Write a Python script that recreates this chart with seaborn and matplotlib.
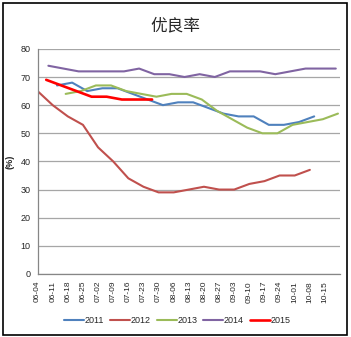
import matplotlib
matplotlib.use("Agg")
import matplotlib.pyplot as plt
import seaborn as sns
import pandas as pd
from matplotlib.lines import Line2D
from matplotlib.patches import Rectangle

# ---- data (month-day of weekly report, good/excellent %) ----
dates_2011 = ["06-13", "06-20", "06-27", "07-04", "07-11", "07-18", "07-25", "08-01", "08-08",
              "08-15", "08-22", "08-29", "09-05", "09-12", "09-19", "09-26", "10-03", "10-10"]
vals_2011 = [67, 68, 65, 66, 66, 64, 62, 60, 61, 61, 59, 57, 56, 56, 53, 53, 54, 56]

dates_2012 = ["06-04", "06-11", "06-18", "06-25", "07-02", "07-09", "07-16", "07-23", "07-30",
              "08-06", "08-13", "08-20", "08-27", "09-03", "09-10", "09-17", "09-24", "10-01", "10-08"]
vals_2012 = [65, 60, 56, 53, 45, 40, 34, 31, 29, 29, 30, 31, 30, 30, 32, 33, 35, 35, 37]

dates_2013 = ["06-17", "06-24", "07-01", "07-08", "07-15", "07-22", "07-29", "08-05", "08-12",
              "08-19", "08-26", "09-02", "09-09", "09-16", "09-23", "09-30", "10-07", "10-14", "10-21"]
vals_2013 = [64, 65, 67, 67, 65, 64, 63, 64, 64, 62, 58, 55, 52, 50, 50, 53, 54, 55, 57]

dates_2014 = ["06-09", "06-16", "06-23", "06-30", "07-07", "07-14", "07-21", "07-28", "08-04", "08-11",
              "08-18", "08-25", "09-01", "09-08", "09-15", "09-22", "09-29", "10-06", "10-13", "10-20"]
vals_2014 = [74, 73, 72, 72, 72, 72, 73, 71, 71, 70, 71, 70, 72, 72, 72, 71, 72, 73, 73, 73]

dates_2015 = ["06-08", "06-15", "06-22", "06-29", "07-06", "07-13", "07-20", "07-27"]
vals_2015 = [69, 67, 65, 63, 63, 62, 62, 62]

years = ["2011", "2012", "2013", "2014", "2015"]
colors = ["#4F81BD", "#C0504D", "#9BBB59", "#8064A2", "#FF0000"]
tick_labels = ["06-04", "06-11", "06-18", "06-25", "07-02", "07-09", "07-16", "07-23", "07-30",
               "08-06", "08-13", "08-20", "08-27", "09-03", "09-10", "09-17", "09-24", "10-01",
               "10-08", "10-15", ""]
y_ticks = [0, 10, 20, 30, 40, 50, 60, 70, 80]
title = "优良率"
y_label = "(%)"

# ---- build table ----
origin = pd.Timestamp("2001-06-04")
def to_day(md):
    return (pd.Timestamp("2001-" + md) - origin).days

series = {
    "2011": (dates_2011, vals_2011),
    "2012": (dates_2012, vals_2012),
    "2013": (dates_2013, vals_2013),
    "2014": (dates_2014, vals_2014),
    "2015": (dates_2015, vals_2015),
}
rows = []
for y in years:
    ds, vs = series[y]
    for d, v in zip(ds, vs):
        rows.append({"year": y, "day": to_day(d), "value": v})
df = pd.DataFrame(rows)

# ---- plot ----
sns.set_style("white")
plt.rcParams["font.family"] = ["Liberation Sans", "Noto Sans CJK SC", "DejaVu Sans"]

fig = plt.figure(figsize=(3.51, 3.37), dpi=100)
ax = fig.add_axes([0.107, 0.187, 0.862, 0.668])

sns.lineplot(data=df, x="day", y="value", hue="year", hue_order=years,
             palette=dict(zip(years, colors)), estimator=None, legend=False,
             linewidth=1.5, ax=ax)
for line, y in zip(ax.lines, years):
    if y == "2015":
        line.set_linewidth(1.9)

tick_pos = [to_day(t) if t else to_day("10-22") for t in tick_labels]
ax.set_xlim(0, to_day("10-22"))
ax.set_ylim(0, 80)
ax.set_xticks(tick_pos)
ax.set_xticklabels(tick_labels, rotation=90, fontsize=6)
ax.set_yticks(y_ticks)
ax.set_yticklabels([str(v) for v in y_ticks], fontsize=6.5)
ax.set_xlabel("")
ax.set_ylabel(y_label, fontsize=6.5, fontweight="bold", labelpad=4)

ax.grid(axis="y", color="#A6A6A6", linewidth=0.9)
ax.grid(axis="x", visible=False)
ax.set_axisbelow(True)
for s in ["top", "right"]:
    ax.spines[s].set_visible(False)
for s in ["left", "bottom"]:
    ax.spines[s].set_color("#868686")
    ax.spines[s].set_linewidth(0.9)
ax.tick_params(axis="x", direction="out", length=3, width=0.8, color="#868686", pad=2)
ax.tick_params(axis="y", direction="out", length=3, width=0.8, color="#868686", pad=2)

fig.text(0.5, 0.922, title, ha="center", va="center", fontsize=12,
         family=["Noto Sans CJK SC", "DejaVu Sans"])

handles = [Line2D([0], [0], color=c, lw=1.9 if y == "2015" else 1.5) for y, c in zip(years, colors)]
fig.legend(handles, years, loc="center", bbox_to_anchor=(0.505, 0.048), ncol=5, frameon=False,
           fontsize=6.5, handlelength=2.2, handletextpad=0.05, columnspacing=0.7)

fig.patches.append(Rectangle((0.009, 0.006), 0.98, 0.985, transform=fig.transFigure,
                             fill=False, edgecolor="#000000", linewidth=1.2))

fig.savefig("out.png", dpi=100)
